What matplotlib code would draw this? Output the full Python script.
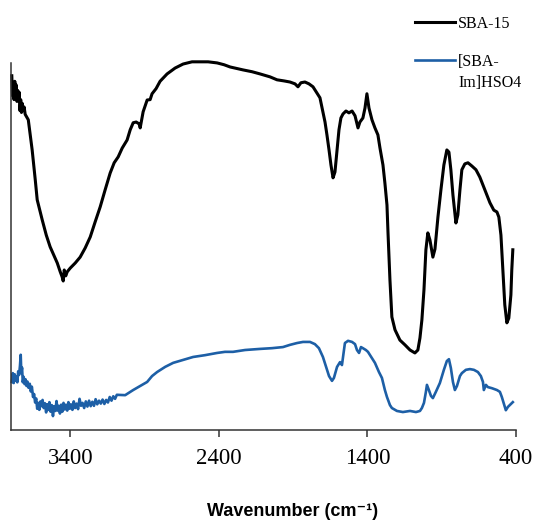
import matplotlib.pyplot as plt
from matplotlib.legend_handler import HandlerLine2D

# FTIR spectra (wavenumber in cm-1, transmittance in a.u.)
sba_wn = [3793, 3788, 3783, 3778, 3773, 3768, 3763, 3758, 3753, 3748, 3743, 3738,
          3733, 3728, 3723, 3716, 3710, 3703, 3682, 3669, 3656, 3635, 3622, 3602,
          3588, 3561, 3535, 3508, 3487, 3467, 3454, 3447, 3440, 3430, 3420, 3400,
          3366, 3333, 3299, 3265, 3232, 3198, 3165, 3131, 3104, 3077, 3050, 3017,
          2996, 2976, 2956, 2936, 2929, 2909, 2882, 2862, 2849, 2822, 2795, 2748,
          2694, 2640, 2580, 2526, 2472, 2411, 2364, 2324, 2237, 2176, 2122, 2055,
          2008, 1961, 1921, 1887, 1867, 1847, 1820, 1793, 1766, 1739, 1719, 1699,
          1685, 1672, 1658, 1645, 1631, 1618, 1604, 1591, 1578, 1564, 1544, 1524,
          1503, 1483, 1463, 1450, 1430, 1416, 1403, 1389, 1369, 1349, 1329, 1315,
          1295, 1282, 1268, 1261, 1248, 1235, 1214, 1181, 1147, 1113, 1080, 1060,
          1046, 1033, 1019, 1006, 993, 979, 959, 945, 925, 905, 885, 865, 851, 838,
          824, 804, 791, 777, 764, 744, 723, 696, 669, 643, 609, 575, 549, 528, 515,
          501, 488, 475, 461, 448, 434, 428, 421]
sba_t = [96.5, 91.0, 94.5, 90.0, 95.0, 92.0, 94.0, 89.5, 92.5, 90.0, 92.0, 87.0,
         90.0, 86.5, 89.0, 87.0, 88.0, 86.0, 84.5, 80.4, 76.3, 68.1, 62.7, 59.4,
         57.2, 53.1, 49.9, 47.4, 45.5, 43.1, 41.7, 40.6, 43.6, 42.0, 43.1, 44.1,
         45.5, 47.1, 49.6, 52.6, 56.7, 60.8, 65.4, 70.0, 72.8, 74.4, 76.8, 79.0,
         81.8, 83.7, 83.9, 83.4, 82.3, 86.7, 89.9, 90.0, 91.6, 93.0, 95.0, 97.0,
         98.6, 99.7, 100.3, 100.3, 100.3, 100.0, 99.5, 98.9, 98.1, 97.6, 97.0, 96.2,
         95.4, 95.1, 94.8, 94.3, 93.5, 94.6, 94.8, 94.3, 93.5, 91.8, 90.5, 86.7,
         83.9, 80.4, 76.3, 72.2, 68.7, 70.3, 76.3, 81.8, 85.0, 86.1, 86.9, 86.4,
         86.9, 85.6, 82.3, 83.9, 85.0, 87.7, 91.6, 87.7, 84.5, 82.3, 80.4, 76.8,
         72.2, 67.3, 61.3, 53.7, 40.9, 30.8, 27.3, 24.5, 23.2, 21.8, 21.0, 21.8,
         25.1, 30.0, 38.2, 49.1, 53.7, 51.8, 47.1, 49.3, 58.0, 65.4, 72.2, 76.3,
         75.7, 70.9, 64.0, 56.4, 58.6, 65.4, 70.9, 72.5, 72.8, 71.9, 70.9, 68.9,
         65.4, 61.9, 59.9, 59.4, 58.0, 53.1, 43.6, 34.1, 29.2, 30.5, 36.8, 43.6, 49.1]

im_wn = [3793, 3786, 3780, 3774, 3768, 3762, 3756, 3750, 3744, 3738, 3733, 3729,
         3724, 3719, 3713, 3707, 3700, 3694, 3688, 3680, 3672, 3665, 3658, 3650,
         3643, 3636, 3629, 3622, 3615, 3608, 3600, 3593, 3586, 3578, 3570, 3562,
         3555, 3547, 3540, 3532, 3524, 3516, 3508, 3500, 3492, 3485, 3477, 3469,
         3461, 3453, 3445, 3437, 3429, 3420, 3412, 3403, 3395, 3385, 3376, 3367,
         3357, 3347, 3337, 3327, 3317, 3306, 3295, 3284, 3273, 3262, 3251, 3240,
         3229, 3218, 3206, 3194, 3182, 3170, 3158, 3146, 3134, 3122, 3110, 3098,
         3086, 3030, 2976, 2929, 2882, 2849, 2815, 2761, 2707, 2640, 2573, 2492,
         2411, 2358, 2304, 2223, 2122, 2042, 1968, 1921, 1873, 1833, 1786, 1753,
         1726, 1699, 1679, 1658, 1638, 1625, 1604, 1584, 1571, 1551, 1530, 1503,
         1483, 1470, 1456, 1443, 1430, 1410, 1396, 1369, 1349, 1322, 1302, 1282,
         1268, 1248, 1235, 1201, 1161, 1113, 1073, 1046, 1033, 1019, 1006, 999,
         986, 972, 959, 939, 912, 885, 865, 851, 838, 824, 811, 797, 777, 764,
         737, 710, 683, 656, 636, 622, 616, 602, 589, 562, 528, 508, 495, 481,
         468, 454, 441, 421]
im_t = [13.1, 15.5, 12.8, 15.2, 13.5, 14.6, 13.0, 16.0, 15.0, 17.5, 20.5, 15.5,
        17.0, 13.0, 14.5, 12.5, 13.8, 12.0, 13.2, 11.5, 12.6, 10.5, 11.8, 9.0,
        9.8, 7.5, 8.6, 5.8, 7.4, 5.5, 7.8, 6.5, 8.2, 6.0, 7.3, 4.8,
        7.0, 5.5, 7.6, 5.0, 6.8, 3.8, 6.5, 5.2, 7.9, 5.3, 6.6, 4.5,
        6.9, 5.0, 7.4, 5.6, 6.9, 5.3, 7.6, 5.8, 7.0, 5.5, 7.8, 6.0,
        7.2, 5.7, 8.5, 6.6, 7.4, 6.0, 7.8, 6.4, 8.0, 6.5, 7.7, 6.6,
        8.4, 7.0, 8.0, 7.2, 8.3, 7.1, 8.2, 7.5, 9.0, 8.0, 9.2, 8.5,
        9.6, 9.5, 10.9, 12.0, 13.1, 14.7, 15.8, 17.2, 18.3, 19.1, 19.9, 20.4,
        21.0, 21.3, 21.3, 21.8, 22.1, 22.3, 22.6, 23.2, 23.7, 24.0, 24.0, 23.4,
        22.3, 19.9, 17.4, 14.7, 13.4, 14.2, 17.2, 18.5, 17.7, 23.7, 24.3, 24.0,
        23.4, 21.8, 21.0, 22.6, 22.3, 21.8, 21.3, 19.6, 18.3, 15.8, 14.2, 10.9,
        9.0, 6.8, 6.0, 5.2, 4.9, 5.2, 4.9, 5.2, 6.0, 7.4, 10.4, 12.3,
        10.9, 9.3, 8.7, 10.4, 12.8, 16.4, 18.8, 19.3, 16.9, 13.1, 10.9, 12.0, 14.7, 15.5,
        16.4, 16.6, 16.4, 15.8, 14.7, 13.1, 10.9, 12.3, 11.7, 11.4, 10.9, 10.4, 9.0, 7.1,
        5.4, 6.3, 6.8, 7.6]

xticks = [3400, 2400, 1400, 400]


class RaisedLine(HandlerLine2D):
    # puts the legend line level with the first line of a wrapped label
    def __init__(self, shift, **kw):
        super().__init__(**kw)
        self.shift = shift

    def create_artists(self, legend, orig_handle, xdescent, ydescent, width,
                       height, fontsize, trans):
        arts = super().create_artists(legend, orig_handle, xdescent, ydescent,
                                      width, height, fontsize, trans)
        for a in arts:
            a.set_ydata([y + self.shift for y in a.get_ydata()])
        return arts


fig = plt.figure(figsize=(5.38, 5.2), dpi=100)
ax = fig.add_axes([0.020, 0.173, 0.939, 0.706])

l1, = ax.plot(sba_wn, sba_t, color='black', lw=2.2, label='SBA-15',
              solid_joinstyle='round', clip_on=False)
l2, = ax.plot(im_wn, im_t, color='#1d5fa6', lw=1.9, label='[SBA-\nIm]HSO4',
              solid_joinstyle='round', clip_on=False)

ax.set_xlim(3800, 400)
ax.set_ylim(0, 100)
ax.set_xticks(xticks)
ax.set_yticks([])
ax.spines['top'].set_visible(False)
ax.spines['right'].set_visible(False)
for s in ['left', 'bottom']:
    ax.spines[s].set_linewidth(1.1)
    ax.spines[s].set_color('#333333')
ax.tick_params(axis='x', direction='out', length=5, width=1.1, color='#333333',
               pad=8, labelsize=16.5)
for lab in ax.get_xticklabels():
    lab.set_fontfamily('Liberation Serif')

ax.set_xlabel('Wavenumber (cm⁻¹)', fontsize=13, fontweight='bold',
              family=['Liberation Sans', 'DejaVu Sans'])
ax.xaxis.set_label_coords(0.557, -0.198)

leg = fig.legend(loc='upper left', bbox_to_anchor=(0.745, 0.997), frameon=False,
                 prop={'family': 'Liberation Serif', 'size': 11.5},
                 handlelength=2.5, handletextpad=0.2, labelspacing=1.38,
                 handler_map={l2: RaisedLine(9.5)})
leg.get_texts()[1].set_linespacing(1.45)

fig.savefig('out.png', dpi=100)
